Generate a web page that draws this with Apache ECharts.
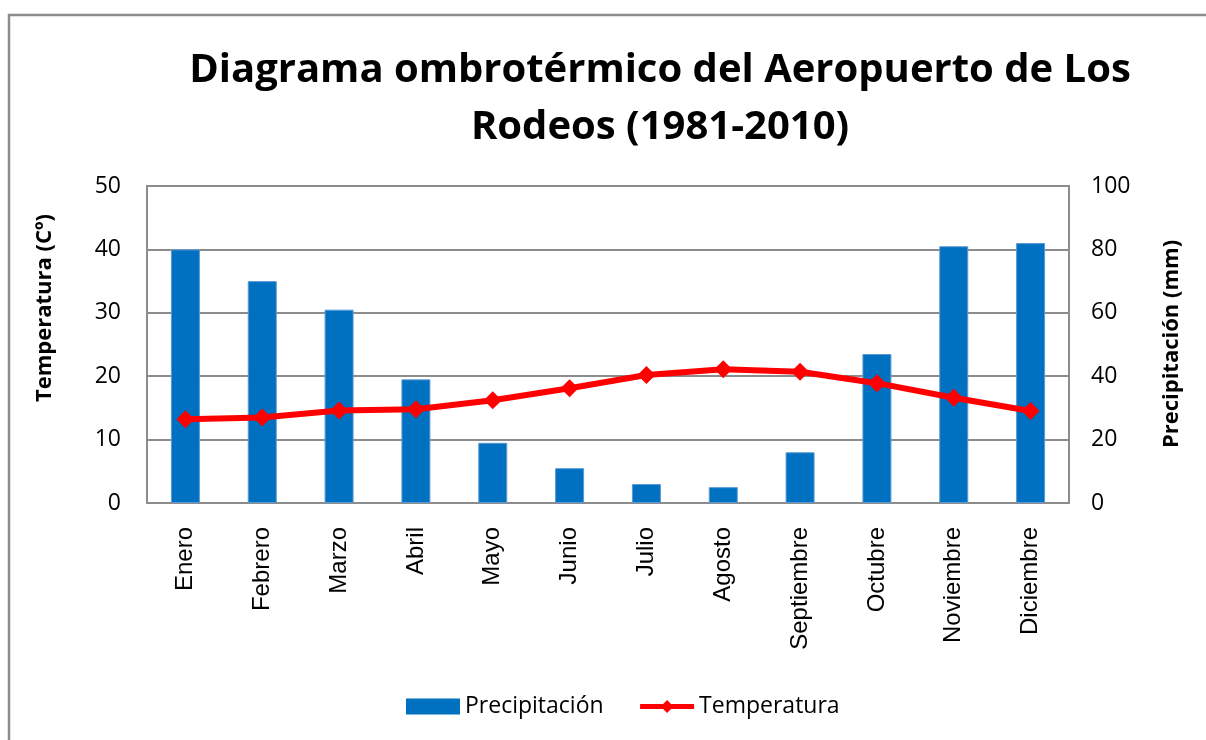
<!DOCTYPE html>
<html><head><meta charset="utf-8">
<style>html,body{margin:0;padding:0;background:#fff}#c{width:1206px;height:740px}</style>
<script src="https://cdn.jsdelivr.net/npm/echarts@6/dist/echarts.min.js"></script>
</head><body><div id="c"></div>
<script>
const months = ['Enero','Febrero','Marzo','Abril','Mayo','Junio','Julio','Agosto','Septiembre','Octubre','Noviembre','Diciembre'];
const precipitacion = [80, 70, 61, 39, 19, 11, 6, 5, 16, 47, 81, 82];
const temperatura = [13.2, 13.5, 14.6, 14.8, 16.2, 18.1, 20.2, 21.1, 20.7, 18.9, 16.6, 14.5];
const title = 'Diagrama ombrotérmico del Aeropuerto de Los\nRodeos (1981-2010)';

const chart = echarts.init(document.getElementById('c'));
const gray = '#8c8c8c';
chart.setOption({
  animation: false,
  title: {
    text: title, left: 655, top: 37, textAlign: 'center',
    textStyle: { fontFamily: 'Open Sans', fontWeight: 'bold', fontSize: 40, lineHeight: 57, color: '#000' }
  },
  graphic: [
    { type: 'rect', shape: { x: 9, y: 15, width: 1300, height: 800 }, style: { fill: 'none', stroke: gray, lineWidth: 2.5 }, z: -1 },
    { type: 'text', x: 45, y: 308, rotation: Math.PI / 2,
      style: { text: 'Temperatura (Cº)', font: 'bold 22px "Open Sans"', fill: '#000', align: 'center', verticalAlign: 'middle' } },
    { type: 'text', x: 1172, y: 344, rotation: Math.PI / 2,
      style: { text: 'Precipitación (mm)', font: 'bold 22px "Open Sans"', fill: '#000', align: 'center', verticalAlign: 'middle' } }
  ],
  grid: { left: 147, right: 137, top: 186, bottom: 237, show: true, borderColor: gray, borderWidth: 2 },
  legend: {
    bottom: 17, left: 401, itemGap: 34, itemWidth: 54, itemHeight: 16,
    textStyle: { fontFamily: 'Open Sans', fontSize: 23, color: '#000' },
    data: [
      { name: 'Precipitación', icon: 'rect', itemStyle: { borderWidth: 0 } },
      { name: 'Temperatura', lineStyle: { width: 5 } }
    ]
  },
  xAxis: {
    type: 'category', data: months,
    axisLine: { lineStyle: { color: gray, width: 2 } },
    axisTick: { show: false },
    axisLabel: { rotate: 90, fontFamily: 'Liberation Sans', fontSize: 24, color: '#000', margin: 24, interval: 0 }
  },
  yAxis: [
    { type: 'value', min: 0, max: 50, interval: 10,
      axisLine: { show: true, lineStyle: { color: gray, width: 2 } }, axisTick: { show: false },
      splitLine: { lineStyle: { color: gray, width: 2 } },
      axisLabel: { fontFamily: 'Open Sans', fontSize: 23, color: '#000', margin: 26 } },
    { type: 'value', min: 0, max: 100, interval: 20,
      axisLine: { show: true, lineStyle: { color: gray, width: 2 } }, axisTick: { show: false },
      splitLine: { show: false },
      axisLabel: { fontFamily: 'Open Sans', fontSize: 23, color: '#000', margin: 22 } }
  ],
  series: [
    { name: 'Precipitación', type: 'bar', yAxisIndex: 1, data: precipitacion, barWidth: 29,
      itemStyle: { color: '#0070C0', borderColor: '#5b9bd5', borderWidth: 1 } },
    { name: 'Temperatura', type: 'line', yAxisIndex: 0, data: temperatura,
      symbol: 'diamond', symbolSize: 18,
      lineStyle: { color: '#ff0000', width: 6 }, itemStyle: { color: '#ff0000' } }
  ]
});
</script></body></html>
